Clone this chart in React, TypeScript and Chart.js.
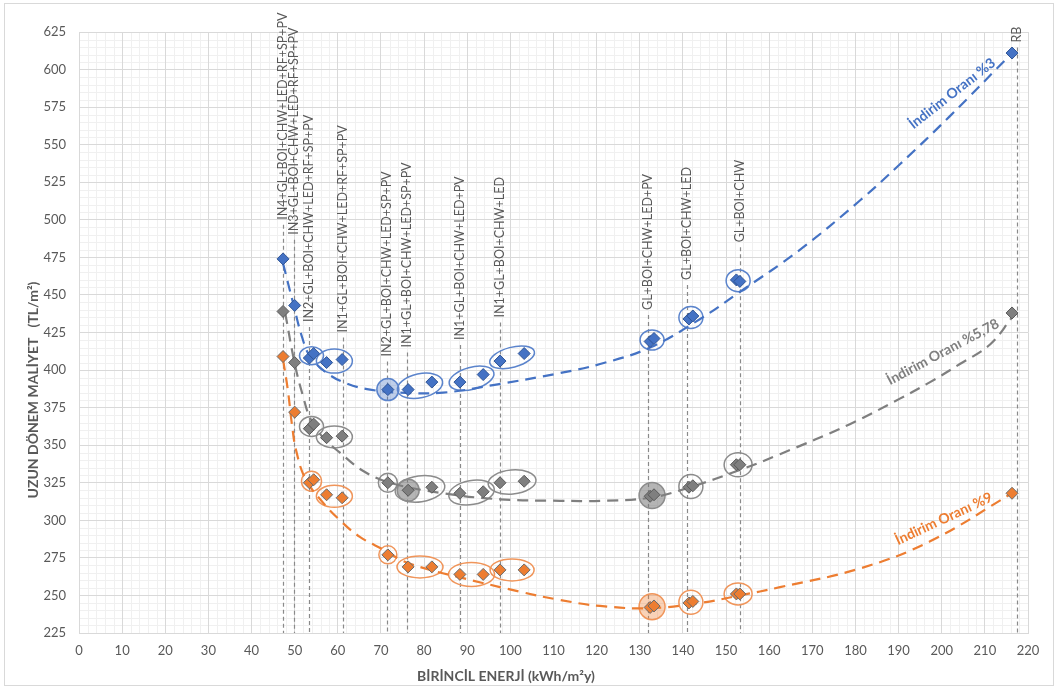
import React, { useEffect, useRef } from 'react';
import { Chart, registerables } from 'chart.js';

Chart.register(...registerables);

// ---------- DATA ----------
const energy = [47.3, 50.0, 53.4, 54.4, 57.4, 61.0, 71.6, 76.3, 81.8, 88.3, 93.7, 97.6, 103.2, 132.4, 133.3, 141.4, 142.3, 152.4, 153.2, 216.3];
const costRate3 = [474, 443, 408, 411, 405, 407, 387, 387, 392, 392, 397, 406, 411, 419, 421, 434, 436, 460, 459, 611];
const costRate578 = [439, 405, 361, 364, 355, 356, 325, 320, 322, 318, 319, 325, 326, 316, 317, 322, 323, 337, 337, 438];
const costRate9 = [409, 372, 325, 327, 317, 315, 277, 269, 269, 264, 264, 267, 267, 242, 243, 245, 246, 251, 251, 318];

const trend3X = [47.3, 49.6, 51.7, 53.6, 57.5, 62.1, 67.5, 74.4, 84.4, 96.0, 111.5, 120.8, 132.4, 144.0, 153.2, 167.1, 181.1, 190.3, 201.9, 216.3];
const trend3Y = [471, 445, 422, 409, 398, 391, 387, 385, 385, 390, 398, 404, 415, 434, 452, 480, 513, 537, 569, 611];
const trend578X = [47.8, 50.1, 51.9, 53.6, 56.6, 60.5, 65.8, 72.1, 84.4, 97.6, 111.5, 120.8, 132.4, 141.6, 153.2, 162.5, 178.7, 190.3, 197.3, 204.2, 211.2, 216.3];
const trend578Y = [438, 403, 383, 368, 355, 345, 333, 325, 318, 314, 313, 313, 315, 322, 333.5, 344, 364, 381, 392, 404, 417, 435];
const trend9X = [47.3, 48.4, 49.4, 50.3, 52.4, 55.9, 60.5, 65.1, 70.9, 75.1, 81.4, 88.3, 102.2, 111.5, 120.8, 132.4, 144.0, 153.2, 162.5, 181.1, 197.3, 216.3];
const trend9Y = [407, 387, 363, 347, 328, 314, 300, 289, 280, 273, 267, 262, 252.5, 247, 243, 241.5, 245, 250, 255.5, 268, 286, 318];

const seriesNames = ['İndirim Oranı %3', 'İndirim Oranı %5,78', 'İndirim Oranı %9'];

const scenarioLabels = [
  'IN4+GL+BOI+CHW+LED+RF+SP+PV',
  'IN3+GL+BOI+CHW+LED+RF+SP+PV',
  'IN2+GL+BOI+CHW+LED+RF+SP+PV',
  'IN1+GL+BOI+CHW+LED+RF+SP+PV',
  'IN2+GL+BOI+CHW+LED+SP+PV',
  'IN1+GL+BOI+CHW+LED+SP+PV',
  'IN1+GL+BOI+CHW+LED+PV',
  'IN1+GL+BOI+CHW+LED',
  'GL+BOI+CHW+LED+PV',
  'GL+BOI+CHW+LED',
  'GL+BOI+CHW',
  'RB',
];
const scenarioEnergy = [47.3, 49.8, 53.4, 61.2, 71.4, 76.0, 88.3, 97.6, 131.9, 140.9, 153.2, 217.4];
const scenarioLabelFrom = [500, 490, 432, 425, 409, 415, 420, 435, 440, 460, 485, 618];

const xTitle = 'BİRİNCİL ENERJİ (kWh/m²y)';
const yTitle = 'UZUN DÖNEM MALİYET   (TL/m²)';

// ---------- STYLE / ANNOTATION CONFIG ----------
const COLORS = ['#4472C4', '#7F7F7F', '#ED7D31'];
const BORDERS = ['#2F5597', '#595959', '#6B6B6B'];
const RING = ['#5B84CC', '#8C8C8C', '#F0955A'];
const FILL = ['rgba(68,114,196,0.35)', 'rgba(120,120,120,0.55)', 'rgba(237,125,49,0.35)'];
const FONT = 'Lato, "Open Sans", sans-serif';

type Ring = { idx: number[]; rx: number; ry: number; rot?: number; fill?: boolean };
const rings: Ring[][] = [
  [
    { idx: [2, 3], rx: 12, ry: 9 },
    { idx: [4, 5], rx: 18, ry: 12 },
    { idx: [6], rx: 11, ry: 11, fill: true },
    { idx: [7, 8], rx: 23, ry: 12, rot: -12 },
    { idx: [9, 10], rx: 23, ry: 11, rot: -15 },
    { idx: [11, 12], rx: 23, ry: 10, rot: -15 },
    { idx: [13, 14], rx: 12, ry: 10 },
    { idx: [15, 16], rx: 12, ry: 11 },
    { idx: [17, 18], rx: 12, ry: 11 },
  ],
  [
    { idx: [2, 3], rx: 12, ry: 10 },
    { idx: [4, 5], rx: 18, ry: 11 },
    { idx: [6], rx: 9.5, ry: 9.5 },
    { idx: [7], rx: 11, ry: 11, fill: true },
    { idx: [7, 8], rx: 25, ry: 13, rot: -8 },
    { idx: [9, 10], rx: 23, ry: 12, rot: -10 },
    { idx: [11, 12], rx: 24, ry: 12, rot: -5 },
    { idx: [13, 14], rx: 13, ry: 13, fill: true },
    { idx: [15, 16], rx: 12, ry: 12 },
    { idx: [17, 18], rx: 14, ry: 12 },
  ],
  [
    { idx: [2, 3], rx: 10, ry: 10 },
    { idx: [4, 5], rx: 18, ry: 11 },
    { idx: [6], rx: 9, ry: 9 },
    { idx: [7, 8], rx: 23, ry: 11 },
    { idx: [9, 10], rx: 23, ry: 12 },
    { idx: [11, 12], rx: 22, ry: 11 },
    { idx: [13, 14], rx: 13, ry: 13, fill: true },
    { idx: [15, 16], rx: 12, ry: 12 },
    { idx: [17, 18], rx: 14, ry: 11 },
  ],
];

// series label anchors (data units) and angles
const seriesLabelPos = [
  { x: 202.4, y: 584, angle: -38 },
  { x: 200.3, y: 412, angle: -28 },
  { x: 200.5, y: 301, angle: -25 },
];

const pointSeries = [costRate3, costRate578, costRate9];

const decorPlugin = {
  id: 'decor',
  beforeDraw(chart: any) {
    const { ctx, chartArea, scales } = chart;
    const xs = scales.x, ys = scales.y;
    ctx.save();
    ctx.fillStyle = '#FFFFFF';
    ctx.fillRect(0, 0, chart.width, chart.height);
    ctx.strokeStyle = '#D9D9D9';
    ctx.lineWidth = 1;
    ctx.strokeRect(4.5, 3.5, chart.width - 9, chart.height - 8);
    // minor grid
    ctx.strokeStyle = '#F0F0F0';
    ctx.beginPath();
    for (let v = 0; v <= 220; v += 2) {
      if (v % 10 === 0) continue;
      const p = Math.round(xs.getPixelForValue(v)) + 0.5;
      ctx.moveTo(p, chartArea.top);
      ctx.lineTo(p, chartArea.bottom);
    }
    for (let v = 225; v <= 625; v += 5) {
      if (v % 25 === 0) continue;
      const p = Math.round(ys.getPixelForValue(v)) + 0.5;
      ctx.moveTo(chartArea.left, p);
      ctx.lineTo(chartArea.right, p);
    }
    ctx.stroke();
    ctx.restore();
  },
  beforeDatasetsDraw(chart: any) {
    const { ctx, chartArea, scales } = chart;
    const xs = scales.x, ys = scales.y;
    ctx.save();
    // vertical dashed scenario lines
    ctx.strokeStyle = '#8A8A8A';
    ctx.lineWidth = 1.2;
    ctx.setLineDash([4, 3]);
    scenarioEnergy.forEach((e, i) => {
      const px = Math.round(xs.getPixelForValue(e)) + 0.5;
      const top = ys.getPixelForValue(scenarioLabelFrom[i]) + 5;
      ctx.beginPath();
      ctx.moveTo(px, top);
      ctx.lineTo(px, chartArea.bottom);
      ctx.stroke();
    });
    ctx.setLineDash([]);
    // rings around points
    rings.forEach((list, s) => {
      list.forEach((r) => {
        let cx = 0, cy = 0;
        r.idx.forEach((k) => {
          cx += xs.getPixelForValue(energy[k]);
          cy += ys.getPixelForValue(pointSeries[s][k]);
        });
        cx /= r.idx.length;
        cy /= r.idx.length;
        ctx.beginPath();
        ctx.ellipse(cx, cy, r.rx, r.ry, ((r.rot || 0) * Math.PI) / 180, 0, Math.PI * 2);
        if (r.fill) {
          ctx.fillStyle = FILL[s];
          ctx.fill();
        }
        ctx.strokeStyle = RING[s];
        ctx.lineWidth = 1.5;
        ctx.stroke();
      });
    });
    ctx.restore();
  },
  afterDraw(chart: any) {
    const { ctx, scales } = chart;
    const xs = scales.x, ys = scales.y;
    ctx.save();
    // scenario labels
    ctx.fillStyle = '#595959';
    ctx.font = `12.5px ${FONT}`;
    ctx.textAlign = 'left';
    ctx.textBaseline = 'middle';
    scenarioLabels.forEach((t, i) => {
      const px = xs.getPixelForValue(scenarioEnergy[i]);
      const py = ys.getPixelForValue(scenarioLabelFrom[i]);
      ctx.save();
      ctx.translate(px, py);
      ctx.rotate(-Math.PI / 2);
      ctx.fillText(t, 0, 0);
      ctx.restore();
    });
    // series labels
    ctx.font = `bold 14px ${FONT}`;
    ctx.textAlign = 'center';
    seriesNames.forEach((n, i) => {
      const p = seriesLabelPos[i];
      ctx.save();
      ctx.translate(xs.getPixelForValue(p.x), ys.getPixelForValue(p.y));
      ctx.rotate((p.angle * Math.PI) / 180);
      ctx.fillStyle = COLORS[i];
      ctx.fillText(n, 0, 0);
      ctx.restore();
    });
    // axis titles
    ctx.fillStyle = '#595959';
    ctx.font = `bold 14px ${FONT}`;
    ctx.fillText(xTitle, 506, 676);
    ctx.save();
    ctx.translate(33, 390);
    ctx.rotate(-Math.PI / 2);
    ctx.font = `bold 14px ${FONT}`;
    ctx.fillText(yTitle, 0, 0);
    ctx.restore();
    ctx.restore();
  },
};

export default function App() {
  const ref = useRef<HTMLCanvasElement>(null);
  useEffect(() => {
    if (!ref.current) return;
    const pts = (ys: number[]) => energy.map((x, i) => ({ x, y: ys[i] }));
    const tr = (xs: number[], ys: number[]) => xs.map((x, i) => ({ x, y: ys[i] }));
    const pointDs = (i: number, ys: number[]) => ({
      label: seriesNames[i],
      data: pts(ys),
      showLine: false,
      pointStyle: 'rectRot',
      pointRadius: 6,
      backgroundColor: COLORS[i],
      borderColor: BORDERS[i],
      borderWidth: 1,
      order: 0,
    });
    const trendDs = (i: number, xs: number[], ys: number[]) => ({
      label: seriesNames[i] + ' trend',
      data: tr(xs, ys),
      showLine: true,
      pointRadius: 0,
      borderColor: COLORS[i],
      borderWidth: 2.2,
      borderDash: [11, 7],
      tension: 0.4,
      fill: false,
      order: 1,
    });
    const chart = new Chart(ref.current, {
      type: 'scatter',
      data: {
        datasets: [
          trendDs(0, trend3X, trend3Y),
          trendDs(1, trend578X, trend578Y),
          trendDs(2, trend9X, trend9Y),
          pointDs(0, costRate3),
          pointDs(1, costRate578),
          pointDs(2, costRate9),
        ] as any,
      },
      options: {
        responsive: false,
        animation: false,
        events: [],
        layout: { padding: { left: 0, top: 32, right: 30, bottom: 0 } },
        plugins: { legend: { display: false }, tooltip: { enabled: false } },
        scales: {
          x: {
            type: 'linear',
            min: 0,
            max: 220,
            ticks: { stepSize: 10, color: '#595959', font: { family: FONT, size: 13 }, padding: 10 },
            grid: { color: '#D9D9D9', drawTicks: false },
            border: { display: true, color: '#D9D9D9' },
            afterFit: (s: any) => { s.height = 57; },
          },
          y: {
            type: 'linear',
            min: 225,
            max: 625,
            ticks: { stepSize: 25, color: '#595959', font: { family: FONT, size: 13 }, padding: 13 },
            grid: { color: '#D9D9D9', drawTicks: false },
            border: { display: true, color: '#D9D9D9' },
            afterFit: (s: any) => { s.width = 79; },
          },
        },
      } as any,
      plugins: [decorPlugin],
    });
    return () => chart.destroy();
  }, []);
  return (
    <div style={{ position: 'absolute', left: 0, top: 0, width: 1058, height: 690 }}>
      <canvas ref={ref} width={1058} height={690} />
    </div>
  );
}
